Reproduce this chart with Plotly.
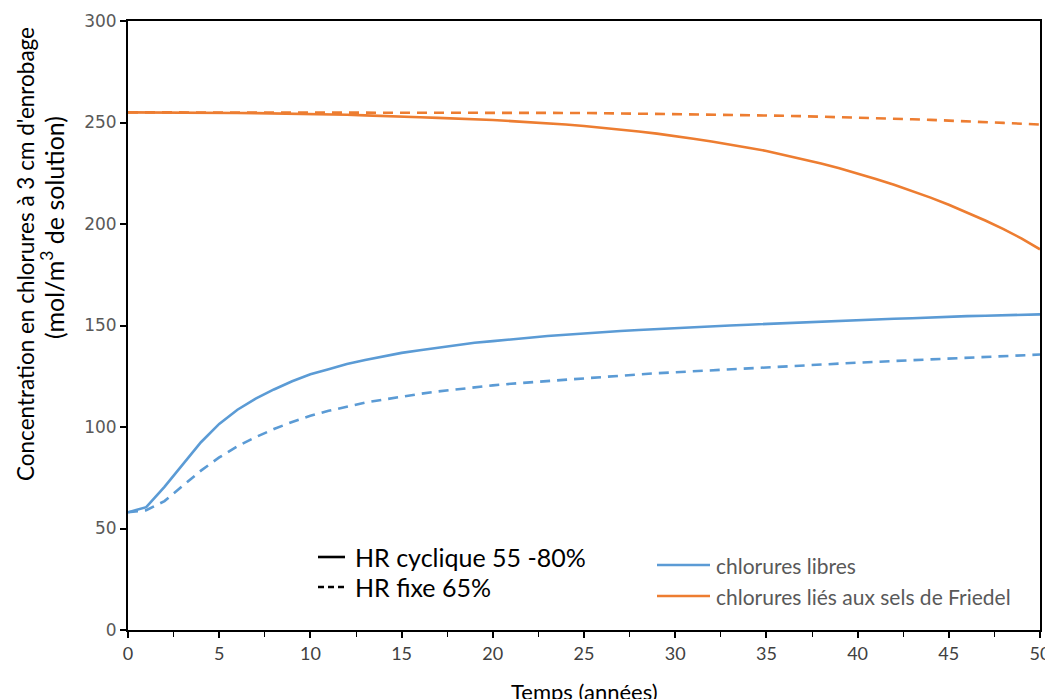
import plotly.graph_objects as go

years = list(range(0, 51))

libres_cyclique = [58, 60.5, 70.5, 81.5, 92.5, 101.5, 108.5, 114, 118.5, 122.5, 126,
                   128.5, 131, 133, 134.8, 136.5, 137.8, 139, 140.5, 141.5, 142.3,
                   143, 144, 144.8, 145.5, 146, 146.6, 147.3, 147.8, 148.3, 148.8,
                   149.2, 149.6, 150, 150.4, 150.8, 151.2, 151.6, 152, 152.3, 152.7,
                   153, 153.3, 153.6, 154, 154.3, 154.6, 154.8, 155.1, 155.3, 155.5]

libres_fixe = [58, 59, 63.5, 71, 78.5, 85, 90.5, 95, 99, 102.5, 105.5,
               108, 110, 112, 113.5, 115, 116.3, 117.5, 118.6, 119.6, 120.5,
               121.3, 122, 122.7, 123.4, 124, 124.7, 125.3, 125.9, 126.5, 127,
               127.5, 128, 128.5, 129, 129.5, 130, 130.5, 130.9, 131.3, 131.7,
               132.1, 132.5, 132.9, 133.3, 133.7, 134.1, 134.5, 134.9, 135.3, 135.7]

friedel_cyclique = [255, 255, 255, 255, 255, 254.8, 254.7, 254.6, 254.5, 254.3, 254.2,
                    254, 253.8, 253.5, 253.3, 253, 252.6, 252.3, 252, 251.6, 251.2,
                    250.7, 250.2, 249.6, 249, 248.3, 247.5, 246.6, 245.6, 244.5, 243.4,
                    242, 240.6, 239.2, 237.6, 236, 234, 232, 229.8, 227.5, 225,
                    222.2, 219.3, 216.3, 213, 209.5, 205.7, 201.7, 197.5, 192.8, 187.5]

friedel_fixe = [255, 255, 255, 255, 255, 255, 255, 255, 255, 255, 255,
                255, 255, 255, 255, 255, 255, 255, 255, 255, 255,
                255, 254.9, 254.9, 254.8, 254.7, 254.6, 254.5, 254.4, 254.3, 254.1,
                254, 253.9, 253.8, 253.6, 253.5, 253.3, 253.1, 252.9, 252.7, 252.5,
                252.2, 251.9, 251.6, 251.3, 251, 250.6, 250.2, 249.8, 249.4, 249]

BLUE = "#5B9BD5"
ORANGE = "#ED7D31"
DASH = "10px,7px"

fig = go.Figure()
for y, color, dash in [(friedel_fixe, ORANGE, DASH), (libres_fixe, BLUE, DASH),
                       (friedel_cyclique, ORANGE, "solid"), (libres_cyclique, BLUE, "solid")]:
    fig.add_trace(go.Scatter(x=years, y=y, mode="lines",
                             line=dict(color=color, width=2.6, dash=dash),
                             showlegend=False, hoverinfo="skip"))

TXT = "Lato, 'Open Sans', sans-serif"

# the page body adds an 8px margin, so the figure is sized to fit the window
fig.update_layout(
    width=1045, height=691,
    margin=dict(l=120, r=13, t=13, b=69),
    plot_bgcolor="white", paper_bgcolor="white",
    font=dict(family=TXT, size=16, color="#595959"),
    xaxis=dict(range=[0, 50], dtick=5, tick0=0, showgrid=False, zeroline=False,
               automargin=False,
               showline=True, linecolor="black", linewidth=2, mirror=True,
               ticks="outside", ticklen=6, tickcolor="black", tickwidth=1.5,
               minor=dict(dtick=2.5, ticks="outside", ticklen=5, tickcolor="black", tickwidth=1.2),
               tickfont=dict(family=TXT, size=18, color="#404040")),
    yaxis=dict(range=[0, 300], dtick=50, showgrid=False, zeroline=False,
               automargin=False,
               showline=True, linecolor="black", linewidth=2, mirror=True,
               ticks="outside", ticklen=6, tickcolor="black", tickwidth=1.5,
               tickfont=dict(family="DejaVu Sans", size=17, color="#595959")),
)

def px2paper(px, py):
    # screen pixel -> paper coords (plot area spans x 128..1040, y 21..630 on screen)
    return (px - 128) / 912, (630 - py) / 609

# axis titles
for text, (sx, sy), fs in [("Concentration en chlorures à 3 cm d'enrobage", (25, 254), 22.5),
                           ("(mol/m<sup>3</sup> de solution)", (52, 228), 25)]:
    tx, ty = px2paper(sx, sy)
    fig.add_annotation(xref="paper", yref="paper", x=tx, y=ty, textangle=-90,
                       text=text, showarrow=False, xanchor="center", yanchor="middle",
                       font=dict(family=TXT, size=fs, color="black"))
tx, ty = px2paper(584, 691)
fig.add_annotation(xref="paper", yref="paper", x=tx, y=ty, text="Temps (années)",
                   showarrow=False, xanchor="center", yanchor="middle",
                   font=dict(family=TXT, size=22, color="black"))

legend_items = [
    ((318, 345), 557, "black", "solid", "HR cyclique 55 -80%", "black", 353, 25),
    ((318, 345), 587, "black", "6px,4px", "HR fixe 65%", "black", 353, 25),
    ((657, 710), 565, BLUE, "solid", "chlorures libres", "#595959", 714, 21),
    ((657, 710), 596, ORANGE, "solid", "chlorures liés aux sels de Friedel", "#595959", 714, 21),
]
for (x0p, x1p), yp, col, dash, text, tcol, txp, fs in legend_items:
    x0, y0 = px2paper(x0p, yp)
    x1, _ = px2paper(x1p, yp)
    fig.add_shape(type="line", xref="paper", yref="paper", x0=x0, x1=x1, y0=y0, y1=y0,
                  line=dict(color=col, width=2.6, dash=dash))
    tx, _ = px2paper(txp, yp)
    fig.add_annotation(xref="paper", yref="paper", x=tx, y=y0, text=text, showarrow=False,
                       xanchor="left", yanchor="middle",
                       font=dict(family=TXT, size=fs, color=tcol))

fig.write_html("out.html")
